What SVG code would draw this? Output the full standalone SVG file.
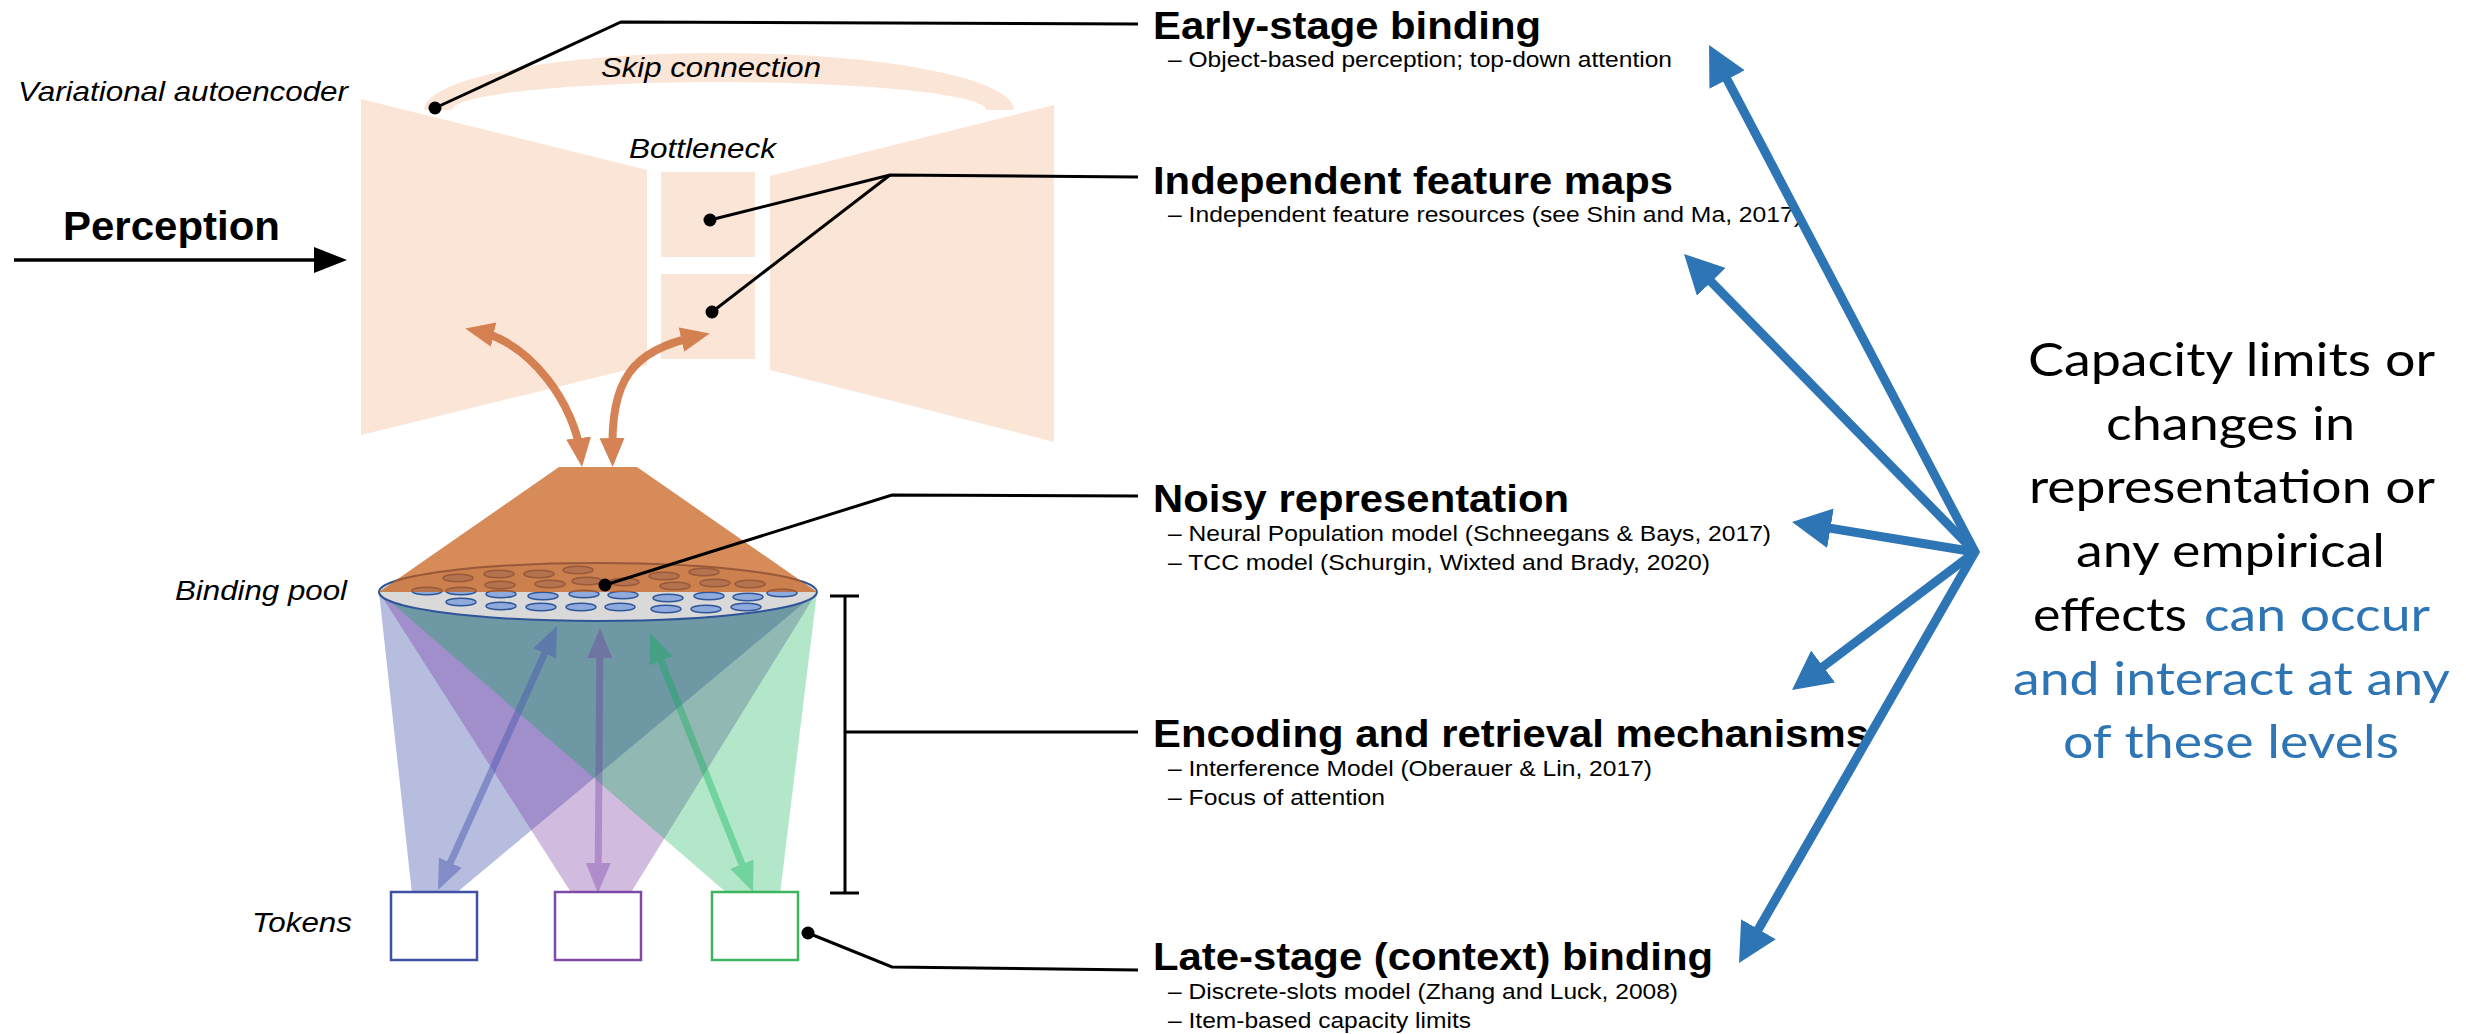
<svg xmlns="http://www.w3.org/2000/svg" width="2466" height="1034" viewBox="0 0 2466 1034">
  <style>
    text { font-family: "Liberation Sans", Arial, sans-serif; fill: #000; }
    .lbl { font-style: italic; font-size: 28px; }
    .title { font-weight: bold; font-size: 38px; }
    .sub { font-size: 22.5px; }
    .note { font-family: Lato, "Liberation Sans", sans-serif; font-size: 46px; }
    .hl { fill: #2E75B6; }
    .peach { fill: #FBE5D6; }
    .lead { fill: none; stroke: #000; stroke-width: 3; }
    .dot { fill: #000; }
    .cell { fill: #8FAADC; stroke: #2F5597; stroke-width: 1.5; }
    .lvl { fill: none; stroke: #2E75B6; stroke-width: 9; stroke-linejoin: miter; }
    .token { fill: #fff; stroke-width: 2.5; }
  </style>
  <defs>
    <ellipse id="cell" class="cell" rx="15" ry="3.8"/>
    <marker id="head-blue" viewBox="0 0 39 40" refX="24" refY="20" markerWidth="39" markerHeight="40" markerUnits="userSpaceOnUse" orient="auto-start-reverse">
      <path d="M0,0 L39,20 L0,40 Z" fill="#2E75B6"/>
    </marker>
    <marker id="head-orange" viewBox="0 0 29 25" refX="17" refY="12.5" markerWidth="29" markerHeight="25" markerUnits="userSpaceOnUse" orient="auto-start-reverse">
      <path d="M0,0 L29,12.5 L0,25 Z" fill="#D0733F"/>
    </marker>
    <marker id="head-tblue" viewBox="0 0 30 25" refX="18" refY="12.5" markerWidth="30" markerHeight="25" markerUnits="userSpaceOnUse" orient="auto-start-reverse">
      <path d="M0,0 L30,12.5 L0,25 Z" fill="#4A5AB0"/>
    </marker>
    <marker id="head-tpurple" viewBox="0 0 30 25" refX="18" refY="12.5" markerWidth="30" markerHeight="25" markerUnits="userSpaceOnUse" orient="auto-start-reverse">
      <path d="M0,0 L30,12.5 L0,25 Z" fill="#7030A0"/>
    </marker>
    <marker id="head-tgreen" viewBox="0 0 30 25" refX="18" refY="12.5" markerWidth="30" markerHeight="25" markerUnits="userSpaceOnUse" orient="auto-start-reverse">
      <path d="M0,0 L30,12.5 L0,25 Z" fill="#00B050"/>
    </marker>
  </defs>

  <rect width="2466" height="1034" fill="#fff"/>

  <!-- Variational autoencoder: encoder, decoder and skip connection -->
  <g id="vae">
    <path id="skip-connection" class="peach" d="M424,110 A295,57 0 0 1 1014,110 L986,110 A267,28 0 0 0 452,110 Z"/>
    <polygon id="encoder" class="peach" points="361,99 647,170 647,365 361,435"/>
    <polygon id="decoder" class="peach" points="770,176 1054,105 1054,442 770,370"/>
    <text class="lbl" x="18" y="101" textLength="330" lengthAdjust="spacingAndGlyphs">Variational autoencoder</text>
    <text class="lbl" x="601" y="77" textLength="220" lengthAdjust="spacingAndGlyphs">Skip connection</text>
  </g>

  <!-- Bottleneck: two latent feature maps -->
  <g id="bottleneck">
    <rect class="peach" x="661" y="172" width="94" height="85"/>
    <rect class="peach" x="661" y="274" width="94" height="85"/>
    <text class="lbl" x="629" y="158" textLength="147" lengthAdjust="spacingAndGlyphs">Bottleneck</text>
  </g>

  <!-- Perception input -->
  <g id="perception">
    <text x="63" y="240" font-weight="bold" font-size="40" textLength="217" lengthAdjust="spacingAndGlyphs">Perception</text>
    <line x1="14" y1="260" x2="318" y2="260" stroke="#000" stroke-width="3.5"/>
    <polygon points="347,260 314,247 314,273" fill="#000"/>
  </g>

  <!-- Projections from the binding pool to the tokens -->
  <g id="fans">
    <polygon points="379,592 817,592 455,894 412,894" fill="#4A5AB0" fill-opacity="0.4"/>
    <polygon points="379,592 817,592 630,894 572,894" fill="#7030A0" fill-opacity="0.32"/>
    <polygon points="379,592 817,592 780,894 728,894" fill="#00B050" fill-opacity="0.3"/>
  </g>

  <!-- Binding pool -->
  <g id="binding-pool">
    <ellipse cx="598" cy="592" rx="219" ry="29" fill="#D9D9D9" stroke="#2F5597" stroke-width="2"/>
    <g id="pool-units">
      <use href="#cell" x="427" y="591"/><use href="#cell" x="461" y="591"/><use href="#cell" x="501" y="594"/>
      <use href="#cell" x="543" y="596"/><use href="#cell" x="584" y="594"/><use href="#cell" x="623" y="595"/>
      <use href="#cell" x="668" y="598"/><use href="#cell" x="709" y="596"/><use href="#cell" x="748" y="597"/>
      <use href="#cell" x="782" y="593"/>
      <use href="#cell" x="461" y="602"/><use href="#cell" x="501" y="606"/><use href="#cell" x="541" y="607"/>
      <use href="#cell" x="581" y="607"/><use href="#cell" x="620" y="607"/><use href="#cell" x="666" y="609"/>
      <use href="#cell" x="706" y="609"/><use href="#cell" x="746" y="607"/>
      <use href="#cell" x="458" y="578"/><use href="#cell" x="499" y="574"/><use href="#cell" x="539" y="574"/>
      <use href="#cell" x="578" y="570"/><use href="#cell" x="500" y="585"/><use href="#cell" x="550" y="584"/>
      <use href="#cell" x="587" y="581"/><use href="#cell" x="624" y="582"/><use href="#cell" x="664" y="576"/>
      <use href="#cell" x="704" y="572"/><use href="#cell" x="675" y="586"/><use href="#cell" x="715" y="583"/>
      <use href="#cell" x="750" y="584"/>
    </g>
    <polygon points="559,467 637,467 817,592 379,592" fill="#C55A11" fill-opacity="0.7"/>
    <text class="lbl" x="175" y="600" textLength="172" lengthAdjust="spacingAndGlyphs">Binding pool</text>
  </g>

  <!-- Tokens -->
  <g id="tokens">
    <rect class="token" x="391" y="892" width="86" height="68" stroke="#3F51A3"/>
    <rect class="token" x="555" y="892" width="86" height="68" stroke="#7E4AA8"/>
    <rect class="token" x="712" y="892" width="86" height="68" stroke="#3DB55E"/>
    <text class="lbl" x="252" y="932" textLength="100" lengthAdjust="spacingAndGlyphs">Tokens</text>
  </g>

  <!-- Level labels -->
  <g id="level-early">
    <text class="title" x="1153" y="39" textLength="388" lengthAdjust="spacingAndGlyphs">Early-stage binding</text>
    <text class="sub" x="1168" y="67" textLength="504" lengthAdjust="spacingAndGlyphs">– Object-based perception; top-down attention</text>
  </g>
  <g id="level-features">
    <text class="title" x="1153" y="194" textLength="520" lengthAdjust="spacingAndGlyphs">Independent feature maps</text>
    <text class="sub" x="1168" y="222" textLength="634" lengthAdjust="spacingAndGlyphs">– Independent feature resources (see Shin and Ma, 2017)</text>
  </g>
  <g id="level-noise">
    <text class="title" x="1153" y="512" textLength="416" lengthAdjust="spacingAndGlyphs">Noisy representation</text>
    <text class="sub" x="1168" y="541" textLength="603" lengthAdjust="spacingAndGlyphs">– Neural Population model (Schneegans &amp; Bays, 2017)</text>
    <text class="sub" x="1168" y="570" textLength="542" lengthAdjust="spacingAndGlyphs">– TCC model (Schurgin, Wixted and Brady, 2020)</text>
  </g>
  <g id="level-encoding">
    <text class="title" x="1153" y="747" textLength="716" lengthAdjust="spacingAndGlyphs">Encoding and retrieval mechanisms</text>
    <text class="sub" x="1168" y="776" textLength="484" lengthAdjust="spacingAndGlyphs">– Interference Model (Oberauer &amp; Lin, 2017)</text>
    <text class="sub" x="1168" y="805" textLength="217" lengthAdjust="spacingAndGlyphs">– Focus of attention</text>
  </g>
  <g id="level-late">
    <text class="title" x="1153" y="970" textLength="560" lengthAdjust="spacingAndGlyphs">Late-stage (context) binding</text>
    <text class="sub" x="1168" y="999" textLength="510" lengthAdjust="spacingAndGlyphs">– Discrete-slots model (Zhang and Luck, 2008)</text>
    <text class="sub" x="1168" y="1028" textLength="303" lengthAdjust="spacingAndGlyphs">– Item-based capacity limits</text>
  </g>

  <!-- Summary statement -->
  <g id="summary">
    <text class="note" x="2028" y="376" textLength="407" lengthAdjust="spacingAndGlyphs">Capacity limits or</text>
    <text class="note" x="2106" y="440" textLength="249" lengthAdjust="spacingAndGlyphs">changes in</text>
    <text class="note" x="2029" y="503" textLength="406" lengthAdjust="spacingAndGlyphs">representation or</text>
    <text class="note" x="2076" y="567" textLength="309" lengthAdjust="spacingAndGlyphs">any empirical</text>
    <text class="note" x="2033" y="631" textLength="154" lengthAdjust="spacingAndGlyphs">effects</text>
    <text class="note hl" x="2204" y="631" textLength="226" lengthAdjust="spacingAndGlyphs">can occur</text>
    <text class="note hl" x="2013" y="695" textLength="437" lengthAdjust="spacingAndGlyphs">and interact at any</text>
    <text class="note hl" x="2063" y="758" textLength="336" lengthAdjust="spacingAndGlyphs">of these levels</text>
  </g>

  <!-- Connectors -->
  <g id="connectors">
    <!-- autoencoder <-> binding pool -->
    <g opacity="0.88">
      <path d="M477,331 C532,343 574.6,405 580.6,455" fill="none" stroke="#D0733F" stroke-width="8" marker-start="url(#head-orange)" marker-end="url(#head-orange)"/>
      <path d="M698,336 C630,351 611,380 612.4,455" fill="none" stroke="#D0733F" stroke-width="8" marker-start="url(#head-orange)" marker-end="url(#head-orange)"/>
    </g>
    <!-- binding pool <-> tokens -->
    <g opacity="0.48">
      <line x1="552.1" y1="636.9" x2="442.9" y2="879.1" stroke="#4A5AB0" stroke-width="7" marker-start="url(#head-tblue)" marker-end="url(#head-tblue)"/>
    </g>
    <g opacity="0.33">
      <line x1="599.9" y1="640" x2="598.1" y2="881" stroke="#7030A0" stroke-width="7" marker-start="url(#head-tpurple)" marker-end="url(#head-tpurple)"/>
    </g>
    <g opacity="0.36">
      <line x1="654.4" y1="644.1" x2="748.6" y2="880.9" stroke="#00B050" stroke-width="7" marker-start="url(#head-tgreen)" marker-end="url(#head-tgreen)"/>
    </g>

    <!-- leader lines to the level labels -->
    <polyline class="lead" points="435,108 621,22 1138,24"/>
    <circle class="dot" cx="435" cy="108" r="6.5"/>
    <polyline class="lead" points="710,220 890,175 1138,177"/>
    <polyline class="lead" points="712,312 890,175"/>
    <circle class="dot" cx="710" cy="220" r="6.5"/>
    <circle class="dot" cx="712" cy="312" r="6.5"/>
    <polyline class="lead" points="605,585 892,495 1138,496"/>
    <circle class="dot" cx="605" cy="585" r="6.5"/>
    <g id="bracket" class="lead" stroke-width="3.5">
      <line x1="845" y1="596" x2="845" y2="893"/>
      <line x1="830" y1="596" x2="859" y2="596"/>
      <line x1="830" y1="893" x2="859" y2="893"/>
      <line x1="845" y1="732" x2="1138" y2="732"/>
    </g>
    <polyline class="lead" points="808,933 892,967 1138,970"/>
    <circle class="dot" cx="808" cy="933" r="6.5"/>

    <!-- effects may arise at any level -->
    <path class="lvl" d="M1716,58.3 L1975,552 L1746.5,950" marker-start="url(#head-blue)" marker-end="url(#head-blue)"/>
    <line class="lvl" x1="1975" y1="552" x2="1694.5" y2="264.7" marker-end="url(#head-blue)"/>
    <line class="lvl" x1="1975" y1="552" x2="1806.8" y2="524.4" marker-end="url(#head-blue)"/>
    <line class="lvl" x1="1975" y1="552" x2="1804" y2="681" marker-end="url(#head-blue)"/>
  </g>
</svg>
